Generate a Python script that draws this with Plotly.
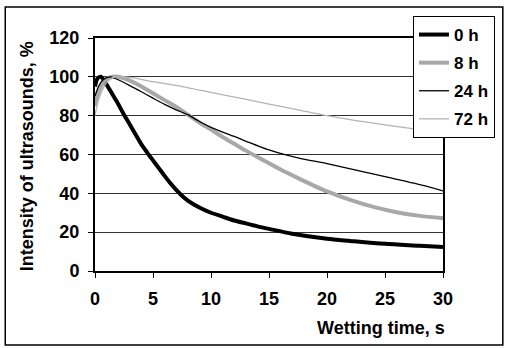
import plotly.graph_objects as go

# ---- data ----
t_0h = [0, 0.2, 0.5, 1, 1.5, 2, 2.5, 3, 3.5, 4, 4.5, 5, 5.5, 6, 6.5, 7, 7.5, 8, 9, 10,
        11, 12, 13, 14, 15, 17, 20, 22, 25, 28, 30]
v_0h = [95, 99, 100, 96, 91, 86, 80.5, 75.5, 70.3, 65.2, 61, 57, 53, 49, 45.2, 41.8,
        38.8, 36.3, 32.7, 30, 28, 26, 24.5, 23, 21.7, 19.2, 16.6, 15.5, 14, 13, 12.3]

t_8h = [0, 0.3, 0.7, 1, 1.5, 2, 3, 4, 5, 6, 7, 8, 9, 10, 11, 12, 13, 14, 15,
        16, 17, 18, 19, 20, 22, 24, 26, 28, 30]
v_8h = [85, 92, 97, 99, 100, 100, 98, 95, 91.5, 88, 84.5, 80.5, 76.5, 72.8, 69,
        65.5, 62, 58.7, 55.5, 52.3, 49.3, 46.4, 43.6, 41, 36.6, 33, 30.3, 28.4, 27.2]

t_24h = [0, 0.3, 0.7, 1.3, 2, 3, 4, 5, 6, 7, 8, 9, 10, 12, 15, 17.5, 20, 22.5, 25,
         27.5, 30]
v_24h = [90, 95, 98.5, 100, 98.5, 95.5, 92.3, 89, 85.8, 83, 80.5, 77, 74, 69.3,
         62.4, 58.3, 55.3, 52, 48.6, 45.2, 41.3]

t_72h = [0, 0.3, 0.7, 1, 1.5, 2, 3, 5, 7.5, 10, 12.5, 15, 17.5, 20, 22.5, 25, 27.5, 30]
v_72h = [80, 88, 94, 97, 99.5, 100, 99.7, 97.5, 95, 92, 89, 86, 83, 80, 77.5,
         75.3, 73.2, 71.3]

names = ["0 h", "8 h", "24 h", "72 h"]
x_ticks = [0, 5, 10, 15, 20, 25, 30]
y_ticks = [0, 20, 40, 60, 80, 100, 120]

series = [
    (t_0h, v_0h, "#000000", 4),
    (t_8h, v_8h, "#a8a8a8", 4),
    (t_24h, v_24h, "#000000", 1.3),
    (t_72h, v_72h, "#b4b4b4", 1.3),
]

fig = go.Figure()
for name, (t, v, c, w) in zip(names, series):
    fig.add_trace(go.Scatter(
        x=t, y=v, name=name, mode="lines", legendgroup=name,
        line=dict(color=c, width=w, shape="spline", smoothing=0.8),
    ))

FONT = "Liberation Sans, Arial, sans-serif"

L, R, T, B = 95, 444, 38, 271
W, H = 506, 348
pw, ph = R - L, B - T

def px(x):
    return (x - L) / pw

def py(y):
    return (B - y) / ph

fig.update_layout(
    width=W, height=H,
    margin=dict(l=L, r=W - R, t=T, b=H - B),
    paper_bgcolor="white", plot_bgcolor="white",
    font=dict(family=FONT, size=18, color="black"),
    showlegend=True,
    legend=dict(
        x=px(413), y=py(16), xanchor="left", yanchor="top",
        bgcolor="white", bordercolor="black", borderwidth=1,
        font=dict(family=FONT, size=17, color="black", weight="bold"),
        tracegroupgap=3, itemwidth=30,
    ),
    xaxis=dict(
        range=[0, 30], tickvals=x_ticks, ticktext=[str(v) for v in x_ticks],
        showgrid=False, zeroline=False,
        showline=True, linecolor="black", linewidth=2, mirror=True,
        ticks="outside", ticklen=5, tickcolor="black", tickwidth=1,
        tickfont=dict(family=FONT, size=18, weight="bold"),
        ticklabelstandoff=5,
    ),
    yaxis=dict(
        range=[0, 120], tickvals=y_ticks, ticktext=[str(v) for v in y_ticks],
        showgrid=True, gridcolor="#333333", gridwidth=1, zeroline=False,
        showline=True, linecolor="black", linewidth=2, mirror=True,
        ticks="outside", ticklen=5, tickcolor="black", tickwidth=1,
        tickfont=dict(family=FONT, size=18, weight="bold"),
        ticklabelstandoff=5,
    ),
    shapes=[dict(
        type="rect", xref="paper", yref="paper",
        x0=px(5), x1=px(504), y0=py(345), y1=py(7),
        line=dict(color="black", width=1.5), layer="below",
    )],
    annotations=[
        dict(text="<b>Wetting time, s</b>", xref="paper", yref="paper",
             x=px(448), y=py(328), xanchor="right", yanchor="middle",
             showarrow=False, font=dict(family=FONT, size=18)),
        dict(text="<b>Intensity of ultrasounds, %</b>", xref="paper", yref="paper",
             x=px(27), y=py(156), xanchor="center", yanchor="middle",
             textangle=-90, showarrow=False, font=dict(family=FONT, size=18)),
    ],
)

fig.write_html("out.html")
